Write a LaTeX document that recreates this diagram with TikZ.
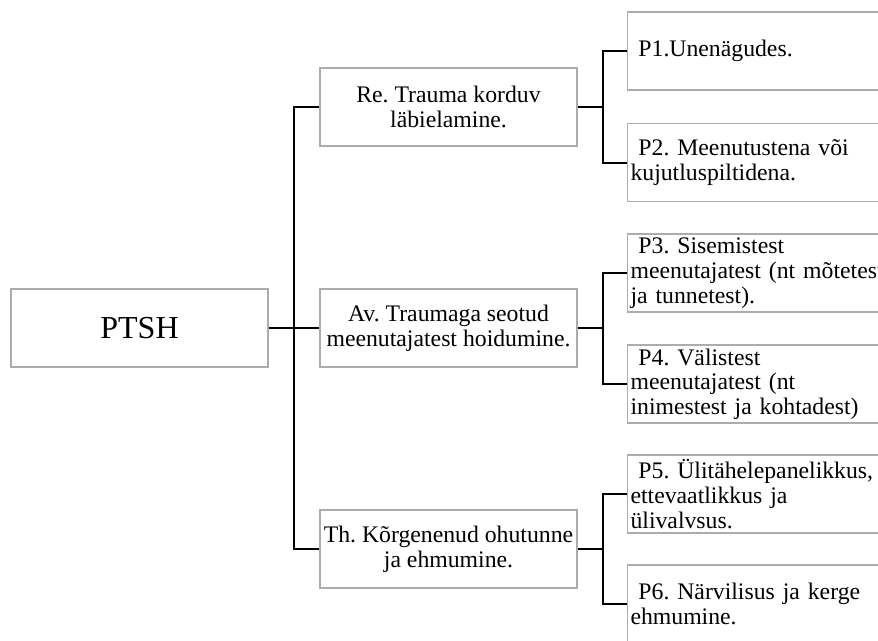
\documentclass[tikz,border=0pt]{standalone}
\usepackage{fontspec}
\setmainfont{Liberation Serif}
\frenchspacing
\begin{document}
\begin{tikzpicture}[x=0.75pt, y=-0.75pt,
  rootbox/.style={rectangle, draw=gray!65, line width=0.8pt, fill=white, minimum width=192.75pt, minimum height=58.5pt, font=\fontsize{24}{26}\selectfont},
  midbox/.style={rectangle, draw=gray!65, line width=0.8pt, fill=white, minimum width=192.75pt, minimum height=58.5pt, inner xsep=1pt, inner ysep=1pt, align=center, font=\fontsize{17.8}{18.5}\selectfont},
  leafbox/.style={rectangle, draw=gray!65, line width=0.8pt, fill=white, anchor=west, minimum height=58.5pt, text width=188.25pt, inner xsep=2.25pt, inner ysep=1pt, align=left, font=\fontsize{17.8}{18.5}\selectfont},
  link/.style={draw=black, line width=1.5pt}]
\useasboundingbox (0,0) rectangle (878,640);
\clip (0,0) rectangle (878,640);
% root and the three groups
\node [rootbox](PTSH) at (139.5,328){PTSH};
\node [midbox](Re) at (448.5,107){Re. Trauma korduv\\läbielamine.};
\node [midbox](Av) at (448.5,328){Av. Traumaga seotud\\meenutajatest hoidumine.};
\node [midbox](Th) at (448.5,549){Th. Kõrgenenud ohutunne\\ja ehmumine.};
% symptoms
\node [leafbox](P1) at (627,51){\ P1.Unenägudes.};
\node [leafbox](P2) at (627,162.5){\ P2. Meenutustena või\\kujutluspiltidena.};
\node [leafbox](P3) at (627,273){\ P3. Sisemistest\\\mbox{meenutajatest (nt mõtetest}\\ja tunnetest).};
\node [leafbox](P4) at (627,384){\ P4. Välistest\\meenutajatest (nt\\inimestest ja kohtadest)};
\node [leafbox](P5) at (627,494){\ P5. Ülitähelepanelikkus,\\ettevaatlikkus ja\\ülivalvsus.};
\node [leafbox](P6) at (627,604){\ P6. Närvilisus ja kerge\\ehmumine.};
% junctions
\coordinate (trunk) at (294,328);
\coordinate (jRe) at (603,107);
\coordinate (jAv) at (603,328);
\coordinate (jTh) at (603,549);
% connectors
\draw [link, line width=2.2pt](PTSH.east) -- (Av.west);
\draw [link](Re.west) -| (trunk) |- (Th.west);
\draw [link](Re.east) -- (jRe);
\draw [link](P1.west) -| (jRe) |- (P2.west);
\draw [link](Av.east) -- (jAv);
\draw [link](P3.west) -| (jAv) |- (P4.west);
\draw [link](Th.east) -- (jTh);
\draw [link](P5.west) -| (jTh) |- (P6.west);
\end{tikzpicture}
\end{document}
